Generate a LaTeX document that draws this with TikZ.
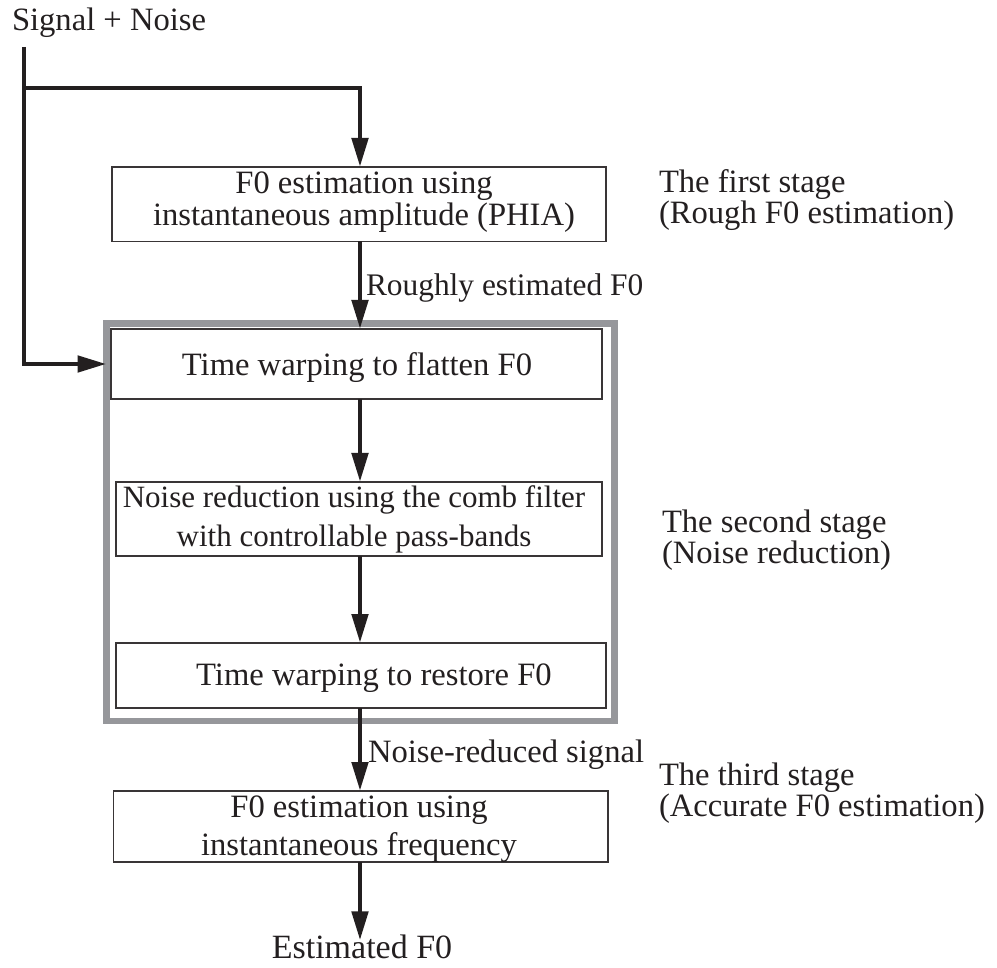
\documentclass[tikz,border=0pt]{standalone}
\usepackage{fontspec}
\setmainfont{Liberation Serif}
\usetikzlibrary{arrows.meta}
\definecolor{ink}{RGB}{35,31,32}
\definecolor{frame}{RGB}{150,151,155}
\begin{document}
\begin{tikzpicture}[x=0.5pt,y=-0.5pt,
  box/.style={draw=ink!90, line width=0.75pt, rectangle, inner sep=0pt, outer sep=0pt},
  txt/.style={inner sep=0pt, outer sep=0pt, anchor=base, text=ink, font=\fontsize{16.3}{19}\selectfont},
  ltxt/.style={txt, anchor=base west},
  arr/.style={draw=ink, line width=2.4pt, -{Triangle[length=14.5pt,width=8pt]}}]
\useasboundingbox (0,0) rectangle (997,968);

% grey frame of the second stage
\node[draw=frame, line width=3.3pt, rectangle, inner sep=0pt, outer sep=0pt,
      minimum width=254pt, minimum height=198.75pt] (frame) at (360.5,522.25) {};

% boxes
\node[box, fill=white, minimum width=247pt,   minimum height=37.25pt] (b1) at (359,204.25) {};
\node[box, fill=white, minimum width=245.5pt, minimum height=35pt]    (b2) at (356.5,364) {};
\node[box, fill=white, minimum width=243pt,   minimum height=37pt]    (b3) at (359,519) {};
\node[box, fill=white, minimum width=245pt,   minimum height=32.5pt]  (b4) at (361,675.5) {};
\node[box, fill=white, minimum width=247.2pt, minimum height=35.5pt]  (b5) at (360.8,826.5) {};

% texts
\node[ltxt] (sig) at (12,31) {Signal + Noise};
\node[txt] (b1a) at (364,194) {F0 estimation using};
\node[txt] (b1b) at (364,226) {instantaneous amplitude (PHIA)};
\node[ltxt, font=\fontsize{15.7}{19}\selectfont] (lab1) at (366,296) {Roughly estimated F0};
\node[txt] (b2a) at (357,376) {Time warping to flatten F0};
\node[txt, font=\fontsize{15.5}{19}\selectfont] (b3a) at (354,508) {Noise reduction using the comb filter};
\node[txt, font=\fontsize{15.5}{19}\selectfont] (b3b) at (354,546) {with controllable pass-bands};
\node[txt] (b4a) at (374,685) {Time warping to restore F0};
\node[ltxt] (lab2) at (368,762) {Noise-reduced signal};
\node[txt] (b5a) at (359,817) {F0 estimation using};
\node[txt] (b5b) at (359,855) {instantaneous frequency};
\node[txt, font=\fontsize{17}{20}\selectfont] (out) at (362,958) {Estimated F0};

\node[ltxt] (s1a) at (659,193) {The first stage};
\node[ltxt] (s1b) at (659,224) {(Rough F0 estimation)};
\node[ltxt] (s2a) at (662,532) {The second stage};
\node[ltxt] (s2b) at (662,563) {(Noise reduction)};
\node[ltxt] (s3a) at (659,785) {The third stage};
\node[ltxt] (s3b) at (659,816) {(Accurate F0 estimation)};

% connectors
\coordinate (col) at (360,0);
\coordinate (src) at (24,47);
\coordinate (split) at (24,88);
\draw[arr] (src) |- (frame.west |- b2.west);
\draw[arr] (split) -| (b1.north -| col);
\draw[arr] (b1.south -| col) -- (b2.north -| col);
\draw[arr] (b2.south -| col) -- (b3.north -| col);
\draw[arr] (b3.south -| col) -- (b4.north -| col);
\draw[arr] (b4.south -| col) -- (b5.north -| col);
\draw[arr] (b5.south -| col) -- ([yshift=-3pt]out.north -| col);
\end{tikzpicture}
\end{document}
